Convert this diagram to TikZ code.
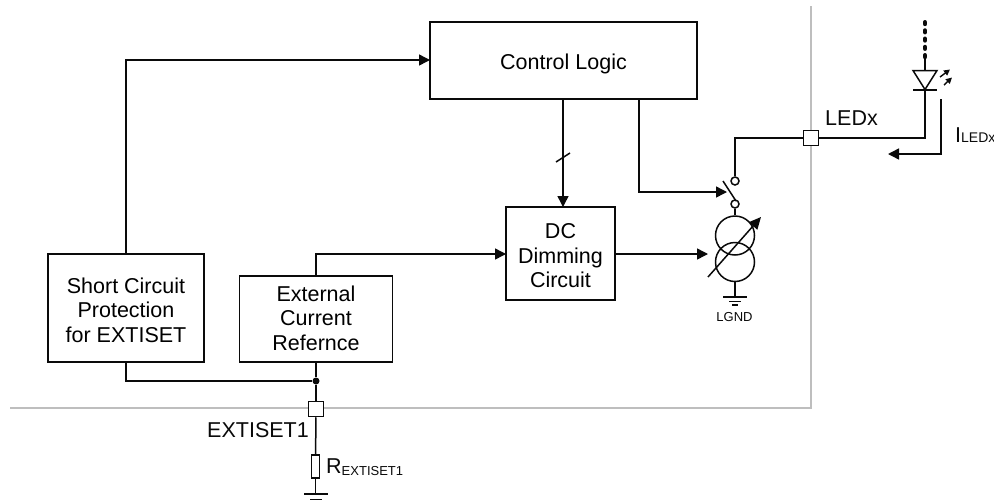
\documentclass[tikz,border=0pt]{standalone}
\usepackage{fontspec}
\setmainfont{Liberation Sans}
\usetikzlibrary{arrows.meta}
\definecolor{frame}{RGB}{190,190,190}
\definecolor{ink}{RGB}{10,10,10}
\tikzset{
  x=1pt,y=-1pt,
  wire/.style={draw=ink,line width=1.5pt},
  arr/.style={wire,-{Triangle[length=11pt,width=11pt]}},
  blockbox/.style={draw=ink,line width=1.5pt,fill=white,align=center,font=\fontsize{21.5}{24.5}\selectfont,inner sep=0pt},
  pinbox/.style={draw=ink,line width=1.5pt,fill=white,minimum size=15pt,inner sep=0pt},
  lab/.style={font=\fontsize{21.5}{24}\selectfont,inner sep=0pt,text=ink},
  jdot/.style={circle,fill=ink,minimum size=7pt,inner sep=0pt},
  swc/.style={circle,draw=ink,line width=1.5pt,fill=white,minimum size=8pt,inner sep=0pt},
  srcc/.style={circle,draw=ink,line width=1.5pt,minimum size=39pt,inner sep=0pt},
}
\begin{document}
\begin{tikzpicture}
\useasboundingbox (0,0) rectangle (994,501);
\fill[white] (0,0) rectangle (994,501);
% device border
\draw[frame,line width=1.5pt] (811,6) -- (811,408) -- (10,408);
% blocks
\node[blockbox,minimum width=267pt,minimum height=77pt] (ctrl) at (563.5,60.5) {\rule{0pt}{22pt}Control Logic};
\node[blockbox,minimum width=156pt,minimum height=108pt] (scp) at (126,308) {\rule{0pt}{20pt}Short Circuit\\Protection\\for EXTISET};
\node[blockbox,minimum width=153pt,minimum height=86pt] (ext) at (316,319) {External\\Current\\Refernce\rule[-2pt]{0pt}{1pt}};
\node[blockbox,minimum width=109pt,minimum height=93pt] (dc) at (560.5,253.5) {\rule{0pt}{20pt}DC\\Dimming\\Circuit};
% pins
\node[pinbox] (pinled) at (811,138) {};
\node[pinbox] (pinext) at (316,409) {};
% points
\coordinate (scptop) at (126,254);
\coordinate (scpbot) at (126,362);
\coordinate (exttop) at (316,276);
\coordinate (extbot) at (316,362);
\node[jdot] (j) at (316,381) {};
\coordinate (ctrlin) at (430,60);
\coordinate (ctrlb1) at (563,99);
\coordinate (dctop) at (563,207);
\coordinate (ctrlb2) at (639,99);
\coordinate (dcleft) at (506,254);
\coordinate (dcright) at (615,254);
% switch and source
\node[swc] (swt) at (735,181) {};
\node[swc] (swb) at (735,204) {};
\node[srcc] (s1) at (735,235.5) {};
\node[srcc] (s2) at (735,262) {};
\coordinate (swin) at (727,192);
\coordinate (srcin) at (708,254);
% connectors
\draw[arr] (scptop) |- (ctrlin);
\draw[arr] (ctrlb1) -- (dctop);
\draw[wire] (556,162) -- (570,153);
\draw[arr] (ctrlb2) |- (swin);
\draw[arr] (exttop) |- (dcleft);
\draw[arr] (dcright) -- (srcin);
\draw[wire] (scpbot) |- (j);
\draw[wire] (extbot) -- (j);
\draw[wire] (j) -- (pinext);
\draw[wire] (swt) |- (pinled);
\draw[wire] (swb) -- (s1);
\draw[wire] (723,181) -- (736,201);
% variable arrow
\draw[wire,-{Triangle[length=12pt,width=11pt]}] (708,277) -- (761,217);
% LGND ground
\coordinate (g1) at (735,297);
\draw[wire] (s2) ++(0,19.5) -- (g1);
\draw[wire] (723,297) -- (747,297);
\draw[wire] (729,301.5) -- (741,301.5);
\draw[wire] (732,305) -- (738,305);
\node[font=\fontsize{13}{15}\selectfont,inner sep=0pt,text=ink] (lgnd) at (734.5,317) {LGND};
% LED
\coordinate (ledk) at (925,90);
\coordinate (ledc) at (925,138);
\coordinate (leda) at (925,70);
\draw[wire] (pinled) -- (ledc) -- (ledk);
\draw[wire] (leda) -- (925,58);
\draw[wire,line join=miter] (913,70.5) -- (937,70.5) -- (925,89.5) -- cycle;
\draw[wire] (913,90) -- (937,90);
\draw[ink,line width=4.4pt,line cap=round,dash pattern=on 1.8pt off 6.45pt] (925,57) -- (925,21);
\draw[ink,line width=1.4pt,-{Triangle[length=6pt,width=6pt]}] (940,77) -- (950,69.5);
\draw[ink,line width=1.4pt,-{Triangle[length=6pt,width=6pt]}] (944,85) -- (952,77.5);
% current arrow
\coordinate (it) at (941,99);
\coordinate (itip) at (888,154);
\draw[arr] (it) |- (itip);
% labels
\node[lab,anchor=base west] (tled) at (825,125) {LEDx};
\node[lab,anchor=base west] (tiled) at (955,142) {I\fontsize{14}{16}\selectfont LEDx};
\node[lab,anchor=base east] (text1) at (309,437) {EXTISET1};
\node[lab,anchor=base west] (tr) at (326,473) {R\raisebox{-2pt}{\fontsize{13}{15}\selectfont EXTISET1}};
% resistor and ground
\node[draw=ink,line width=1.5pt,fill=white,minimum width=8pt,minimum height=23pt,inner sep=0pt] (res) at (315.5,466.5) {};
\draw[wire] (pinext) -- (res);
\coordinate (g2) at (315.5,494);
\draw[wire] (res) -- (g2);
\draw[wire] (304,494) -- (328,494);
\draw[wire] (310,499.5) -- (322,499.5);
\end{tikzpicture}
\end{document}
